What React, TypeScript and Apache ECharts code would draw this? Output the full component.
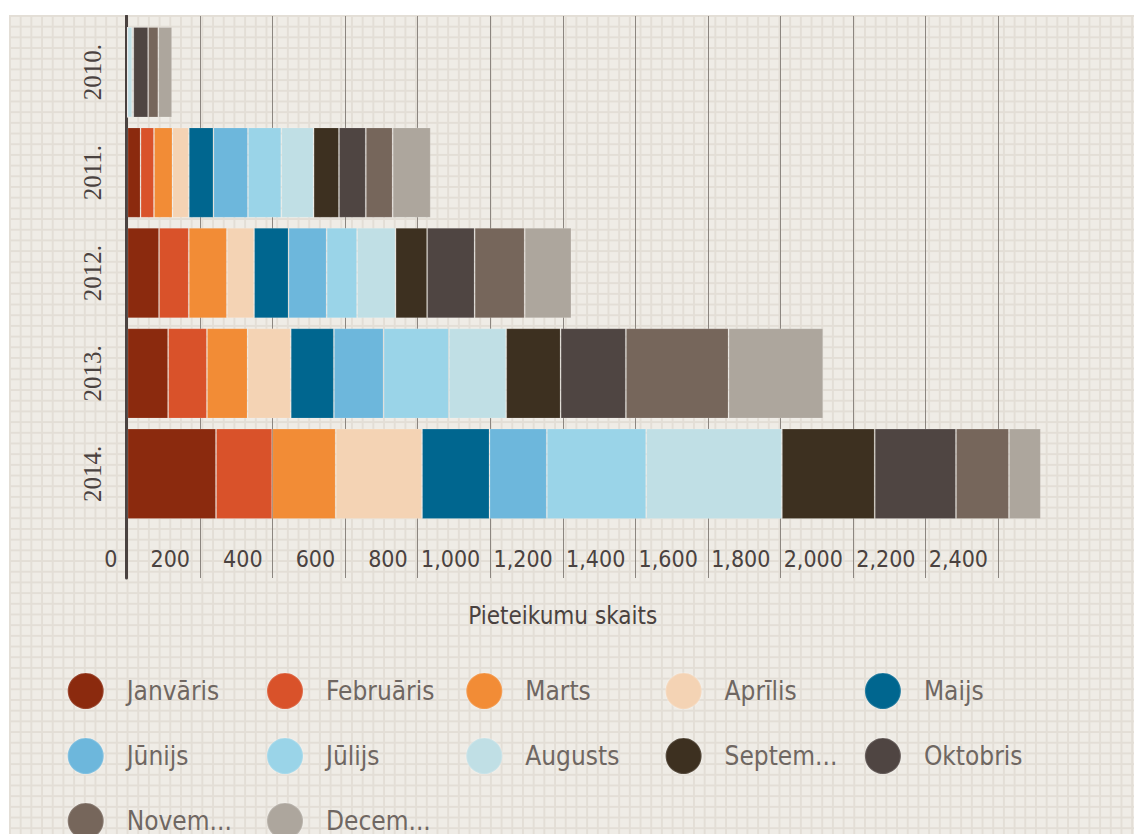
import React, { useEffect, useRef } from "react";
import * as echarts from "echarts";

const years = ["2010.", "2011.", "2012.", "2013.", "2014."];
const months = [
  "Janvāris", "Februāris", "Marts", "Aprīlis", "Maijs", "Jūnijs",
  "Jūlijs", "Augusts", "Septembris", "Oktobris", "Novembris", "Decembris",
];
const legendLabels = [
  "Janvāris", "Februāris", "Marts", "Aprīlis", "Maijs", "Jūnijs",
  "Jūlijs", "Augusts", "Septem...", "Oktobris", "Novem...", "Decem...",
];
const monthColors = [
  "#8b2a0e", "#d9522a", "#f28c36", "#f4d3b4", "#00668f", "#6db7dc",
  "#9ad4e8", "#c0dfe5", "#3d3020", "#4f4542", "#76665b", "#ada69d",
];

const janvaris = [0, 36, 87, 112, 244];
const februaris = [0, 37, 82, 107, 155];
const marts = [0, 51, 105, 112, 175];
const aprilis = [0, 45, 75, 119, 238];
const maijs = [0, 68, 95, 119, 186];
const junijs = [0, 95, 105, 137, 158];
const julijs = [0, 92, 84, 180, 274];
const augusts = [13, 89, 106, 158, 374];
const septembris = [3, 70, 87, 150, 256];
const oktobris = [41, 74, 131, 180, 224];
const novembris = [28, 74, 138, 283, 146];
const decembris = [38, 105, 129, 261, 88];

const monthValues = [
  janvaris, februaris, marts, aprilis, maijs, junijs,
  julijs, augusts, septembris, oktobris, novembris, decembris,
];

const narrow = "'DejaVu Sans Condensed', 'DejaVu Sans', sans-serif";

export default function App() {
  const ref = useRef<HTMLDivElement>(null);

  useEffect(() => {
    if (!ref.current) return;
    const chart = echarts.init(ref.current, undefined, { renderer: "svg" });

    const legends = months.map((m, i) => ({
      data: [m],
      left: 57.7 + (i % 5) * 199.3,
      top: 657 + Math.floor(i / 5) * 65,
      padding: 0,
      orient: "horizontal",
      icon: "circle",
      itemWidth: 36,
      itemHeight: 36,
      selectedMode: false,
      formatter: (n: string) => legendLabels[months.indexOf(n)],
      textStyle: {
        fontFamily: narrow,
        fontSize: 26,
        color: "#6f6762",
        padding: [0, 0, 0, 18],
      },
    }));

    chart.setOption({
      animation: false,
      backgroundColor: "transparent",
      grid: [
        { left: 118.5, top: 7, width: 943.1, height: 502 },
        { left: 118.5, top: 1, width: 870.5, height: 562 },
      ],
      xAxis: [
        { gridIndex: 0, type: "value", min: 0, max: 2600, show: false },
        {
          gridIndex: 1,
          type: "value",
          min: 0,
          max: 2400,
          interval: 200,
          axisLine: { show: false },
          axisTick: { show: false },
          splitLine: { show: true, lineStyle: { color: "#8c8680", width: 1 } },
          axisLabel: {
            inside: true,
            margin: 8,
            align: "right",
            padding: [0, 10, 0, 0],
            fontFamily: narrow,
            fontSize: 23,
            color: "#4a4240",
            formatter: (v: number) => v.toLocaleString("en-US"),
          },
          name: "Pieteikumu skaits",
          nameLocation: "middle",
          nameGap: 26,
          nameTextStyle: { fontFamily: narrow, fontSize: 24, color: "#4a4240" },
        },
      ],
      yAxis: [
        {
          gridIndex: 0,
          type: "category",
          data: years,
          inverse: true,
          axisLine: { show: false },
          axisTick: { show: false },
          axisLabel: {
            rotate: 90,
            margin: 23,
            fontFamily: "'Liberation Serif', 'DejaVu Serif', serif",
            fontSize: 25,
            color: "#4a4240",
          },
        },
        {
          gridIndex: 1,
          type: "value",
          min: 0,
          max: 1,
          offset: 1.5,
          axisLine: { show: true, onZero: false, lineStyle: { color: "#4a4240", width: 3 } },
          axisTick: { show: false },
          axisLabel: { show: false },
          splitLine: { show: false },
        },
      ],
      legend: legends,
      series: months.map((m, i) => ({
        name: m,
        type: "bar",
        stack: "total",
        xAxisIndex: 0,
        yAxisIndex: 0,
        barCategoryGap: "10%",
        data: monthValues[i],
        itemStyle: {
          color: monthColors[i],
          borderColor: "rgba(255,255,255,0.15)",
          borderWidth: 1,
        },
      })),
    });

    return () => chart.dispose();
  }, []);

  return (
    <div
      ref={ref}
      style={{
        position: "fixed",
        left: 9,
        top: 15,
        width: 1125,
        height: 819,
        backgroundColor: "#efece6",
        backgroundImage:
          "linear-gradient(#e3ded6 2px, transparent 2px), linear-gradient(90deg, #e3ded6 2px, transparent 2px)",
        backgroundSize: "10.7px 10.7px",
      }}
    />
  );
}
